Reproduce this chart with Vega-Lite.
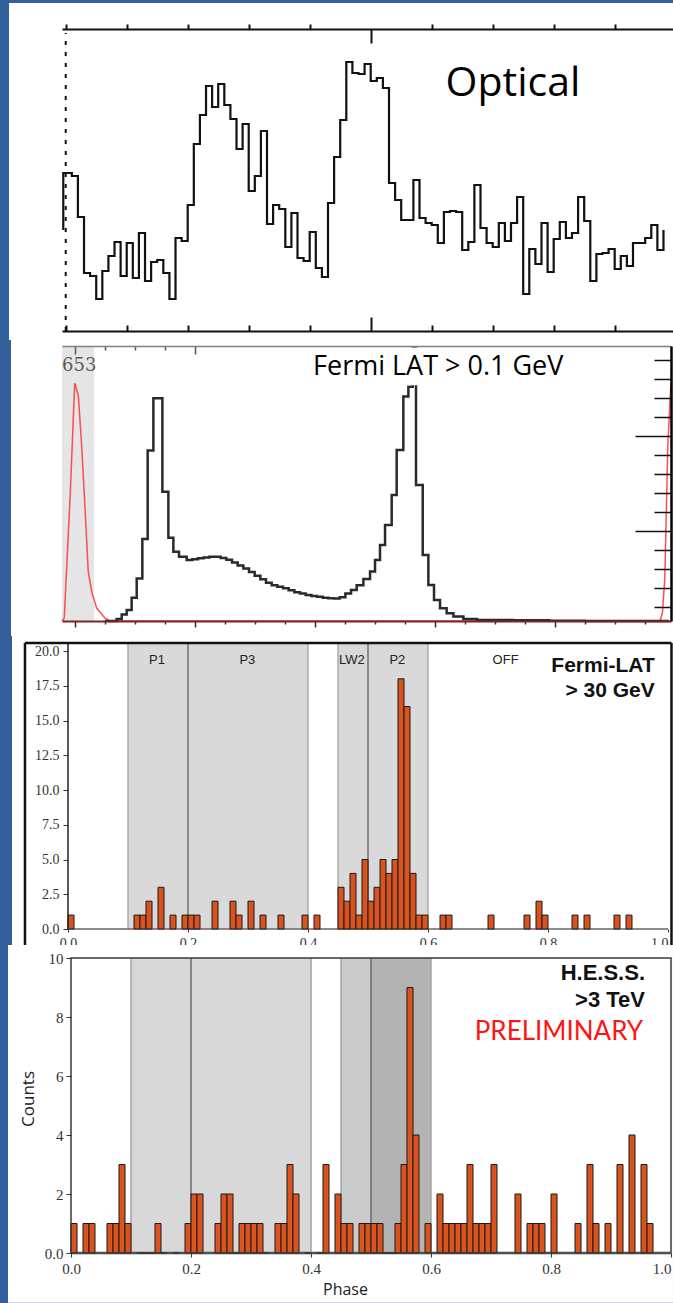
{
  "$schema": "https://vega.github.io/schema/vega-lite/v6.json",
  "background": "#33609c",
  "padding": {"left": 8, "top": 3, "right": 0, "bottom": 0},
  "config": {"view": {"stroke": null}, "axis": {"grid": false}},
  "spacing": 15,
  "bounds": "flush",
  "datasets": {
    "optical": [
      {"i":0,"phase":-0.004,"flux":101},{"i":1,"phase":-0.004,"flux":158},
      {"i":2,"phase":0.00,"flux":158},{"i":3,"phase":0.01,"flux":155},{"i":4,"phase":0.02,"flux":114},{"i":5,"phase":0.03,"flux":58},{"i":6,"phase":0.04,"flux":55},{"i":7,"phase":0.05,"flux":32},{"i":8,"phase":0.06,"flux":60},{"i":9,"phase":0.07,"flux":75},{"i":10,"phase":0.08,"flux":89},{"i":11,"phase":0.09,"flux":55},
      {"i":12,"phase":0.10,"flux":88},{"i":13,"phase":0.11,"flux":53},{"i":14,"phase":0.12,"flux":98},{"i":15,"phase":0.13,"flux":50},{"i":16,"phase":0.14,"flux":69},{"i":17,"phase":0.15,"flux":71},{"i":18,"phase":0.16,"flux":58},{"i":19,"phase":0.17,"flux":32},{"i":20,"phase":0.18,"flux":93},{"i":21,"phase":0.19,"flux":90},
      {"i":22,"phase":0.20,"flux":126},{"i":23,"phase":0.21,"flux":187},{"i":24,"phase":0.22,"flux":216},{"i":25,"phase":0.23,"flux":245},{"i":26,"phase":0.24,"flux":224},{"i":27,"phase":0.25,"flux":247},{"i":28,"phase":0.26,"flux":226},{"i":29,"phase":0.27,"flux":212},{"i":30,"phase":0.28,"flux":182},{"i":31,"phase":0.29,"flux":207},
      {"i":32,"phase":0.30,"flux":140},{"i":33,"phase":0.31,"flux":155},{"i":34,"phase":0.32,"flux":200},{"i":35,"phase":0.33,"flux":107},{"i":36,"phase":0.34,"flux":126},{"i":37,"phase":0.35,"flux":122},{"i":38,"phase":0.36,"flux":84},{"i":39,"phase":0.37,"flux":118},{"i":40,"phase":0.38,"flux":73},{"i":41,"phase":0.39,"flux":70},
      {"i":42,"phase":0.40,"flux":99},{"i":43,"phase":0.41,"flux":63},{"i":44,"phase":0.42,"flux":54},{"i":45,"phase":0.43,"flux":128},{"i":46,"phase":0.44,"flux":174},{"i":47,"phase":0.45,"flux":211},{"i":48,"phase":0.46,"flux":269},{"i":49,"phase":0.47,"flux":258},{"i":50,"phase":0.48,"flux":257},{"i":51,"phase":0.49,"flux":267},
      {"i":52,"phase":0.50,"flux":250},{"i":53,"phase":0.51,"flux":253},{"i":54,"phase":0.52,"flux":243},{"i":55,"phase":0.53,"flux":148},{"i":56,"phase":0.54,"flux":131},{"i":57,"phase":0.55,"flux":111},{"i":58,"phase":0.56,"flux":111},{"i":59,"phase":0.57,"flux":151},{"i":60,"phase":0.58,"flux":113},{"i":61,"phase":0.59,"flux":108},
      {"i":62,"phase":0.60,"flux":106},{"i":63,"phase":0.61,"flux":88},{"i":64,"phase":0.62,"flux":119},{"i":65,"phase":0.63,"flux":120},{"i":66,"phase":0.64,"flux":119},{"i":67,"phase":0.65,"flux":81},{"i":68,"phase":0.66,"flux":89},{"i":69,"phase":0.67,"flux":146},{"i":70,"phase":0.68,"flux":103},{"i":71,"phase":0.69,"flux":88},
      {"i":72,"phase":0.70,"flux":84},{"i":73,"phase":0.71,"flux":108},{"i":74,"phase":0.72,"flux":90},{"i":75,"phase":0.73,"flux":108},{"i":76,"phase":0.74,"flux":134},{"i":77,"phase":0.75,"flux":37},{"i":78,"phase":0.76,"flux":82},{"i":79,"phase":0.77,"flux":67},{"i":80,"phase":0.78,"flux":108},{"i":81,"phase":0.79,"flux":59},
      {"i":82,"phase":0.80,"flux":92},{"i":83,"phase":0.81,"flux":109},{"i":84,"phase":0.82,"flux":93},{"i":85,"phase":0.83,"flux":98},{"i":86,"phase":0.84,"flux":134},{"i":87,"phase":0.85,"flux":110},{"i":88,"phase":0.86,"flux":50},{"i":89,"phase":0.87,"flux":77},{"i":90,"phase":0.88,"flux":78},{"i":91,"phase":0.89,"flux":82},
      {"i":92,"phase":0.90,"flux":62},{"i":93,"phase":0.91,"flux":75},{"i":94,"phase":0.92,"flux":65},{"i":95,"phase":0.93,"flux":88},{"i":96,"phase":0.94,"flux":88},{"i":97,"phase":0.95,"flux":93},{"i":98,"phase":0.96,"flux":106},{"i":99,"phase":0.97,"flux":81},{"i":100,"phase":0.98,"flux":101}
    ],
    "fermi": [
      {"phase":0.05,"rate":0},{"phase":0.0694,"rate":0.7},{"phase":0.0778,"rate":2.4},{"phase":0.0861,"rate":4},{"phase":0.0944,"rate":8.5},{"phase":0.1028,"rate":15.5},{"phase":0.1122,"rate":29.8},{"phase":0.1211,"rate":62},{"phase":0.1306,"rate":81},{"phase":0.1456,"rate":47},{"phase":0.1556,"rate":30.3},{"phase":0.1639,"rate":25.2},{"phase":0.1733,"rate":23.4},{"phase":0.1861,"rate":22.2},{"phase":0.1956,"rate":22.5},{"phase":0.205,"rate":22.8},{"phase":0.2144,"rate":23.1},{"phase":0.2239,"rate":23.4},{"phase":0.2333,"rate":23.4},{"phase":0.2428,"rate":22.9},{"phase":0.2522,"rate":22.3},{"phase":0.2617,"rate":21.3},{"phase":0.2711,"rate":20.2},{"phase":0.2806,"rate":19.1},{"phase":0.29,"rate":17.8},{"phase":0.2994,"rate":16.5},{"phase":0.3089,"rate":15.2},{"phase":0.3183,"rate":13.9},{"phase":0.3278,"rate":13},{"phase":0.3372,"rate":12.5},{"phase":0.3467,"rate":11.9},{"phase":0.3561,"rate":11.2},{"phase":0.3656,"rate":10.5},{"phase":0.375,"rate":10},{"phase":0.3844,"rate":9.5},{"phase":0.3939,"rate":9.1},{"phase":0.4033,"rate":8.8},{"phase":0.4128,"rate":8.5},{"phase":0.4222,"rate":8.3},{"phase":0.4317,"rate":8.2},{"phase":0.4411,"rate":8.6},{"phase":0.4506,"rate":10},{"phase":0.46,"rate":11.3},{"phase":0.4694,"rate":13},{"phase":0.4806,"rate":15.3},{"phase":0.4917,"rate":18},{"phase":0.5,"rate":22.2},{"phase":0.5083,"rate":27.6},{"phase":0.5167,"rate":34.9},{"phase":0.5278,"rate":45.8},{"phase":0.5361,"rate":62.2},{"phase":0.5472,"rate":81.6},{"phase":0.5556,"rate":85.2},{"phase":0.5628,"rate":99},{"phase":0.5683,"rate":49.5},{"phase":0.5795,"rate":24},{"phase":0.5889,"rate":13.1},{"phase":0.5983,"rate":7.6},{"phase":0.6083,"rate":4.6},{"phase":0.6194,"rate":2.8},{"phase":0.6306,"rate":1.6},{"phase":0.6472,"rate":0.7},{"phase":0.67,"rate":0.4},{"phase":0.73,"rate":0.3},{"phase":0.79,"rate":0.1},{"phase":0.85,"rate":0},{"phase":0.99,"rate":0}
    ],
    "radio": [
      {"phase":-0.0217,"level":0},{"phase":-0.018,"level":1},{"phase":-0.008,"level":46},{"phase":-0.0005,"level":86.5},{"phase":0.0055,"level":82},{"phase":0.011,"level":64},{"phase":0.0155,"level":46},{"phase":0.0195,"level":29},{"phase":0.022,"level":18},{"phase":0.028,"level":10.5},{"phase":0.036,"level":4.7},{"phase":0.05,"level":1},{"phase":0.058,"level":0},{"phase":0.975,"level":0},{"phase":0.979,"level":3},{"phase":0.983,"level":15.6},{"phase":0.988,"level":64},{"phase":0.9933,"level":87}
    ],
    "lat30": [
      {"start":0.00,"end":0.01,"count":1},{"start":0.11,"end":0.12,"count":1},{"start":0.12,"end":0.13,"count":1},{"start":0.13,"end":0.14,"count":2},{"start":0.15,"end":0.16,"count":3},{"start":0.17,"end":0.18,"count":1},{"start":0.19,"end":0.20,"count":1},{"start":0.20,"end":0.21,"count":1},{"start":0.21,"end":0.22,"count":1},{"start":0.24,"end":0.25,"count":2},{"start":0.27,"end":0.28,"count":2},{"start":0.28,"end":0.29,"count":1},{"start":0.30,"end":0.31,"count":2},{"start":0.32,"end":0.33,"count":1},{"start":0.35,"end":0.36,"count":1},{"start":0.39,"end":0.40,"count":1},{"start":0.41,"end":0.42,"count":1},{"start":0.45,"end":0.46,"count":3},{"start":0.46,"end":0.47,"count":2},{"start":0.47,"end":0.48,"count":4},{"start":0.48,"end":0.49,"count":1},{"start":0.49,"end":0.50,"count":5},{"start":0.50,"end":0.51,"count":2},{"start":0.51,"end":0.52,"count":3},{"start":0.52,"end":0.53,"count":5},{"start":0.53,"end":0.54,"count":4},{"start":0.54,"end":0.55,"count":5},{"start":0.55,"end":0.56,"count":18},{"start":0.56,"end":0.57,"count":16},{"start":0.57,"end":0.58,"count":4},{"start":0.58,"end":0.59,"count":1},{"start":0.59,"end":0.60,"count":1},{"start":0.62,"end":0.63,"count":1},{"start":0.63,"end":0.64,"count":1},{"start":0.70,"end":0.71,"count":1},{"start":0.76,"end":0.77,"count":1},{"start":0.78,"end":0.79,"count":2},{"start":0.79,"end":0.80,"count":1},{"start":0.84,"end":0.85,"count":1},{"start":0.86,"end":0.87,"count":1},{"start":0.91,"end":0.92,"count":1},{"start":0.93,"end":0.94,"count":1}
    ],
    "hess": [
      {"start":0.00,"end":0.01,"count":1},{"start":0.02,"end":0.03,"count":1},{"start":0.03,"end":0.04,"count":1},{"start":0.06,"end":0.07,"count":1},{"start":0.07,"end":0.08,"count":1},{"start":0.08,"end":0.09,"count":3},{"start":0.09,"end":0.10,"count":1},{"start":0.11,"end":0.12,"count":0},{"start":0.12,"end":0.13,"count":0},{"start":0.13,"end":0.14,"count":0},{"start":0.14,"end":0.15,"count":1},{"start":0.15,"end":0.16,"count":0},{"start":0.17,"end":0.18,"count":0},{"start":0.19,"end":0.20,"count":1},{"start":0.20,"end":0.21,"count":2},{"start":0.21,"end":0.22,"count":2},{"start":0.24,"end":0.25,"count":1},{"start":0.25,"end":0.26,"count":2},{"start":0.26,"end":0.27,"count":2},{"start":0.27,"end":0.28,"count":0},{"start":0.28,"end":0.29,"count":1},{"start":0.29,"end":0.30,"count":1},{"start":0.30,"end":0.31,"count":1},{"start":0.31,"end":0.32,"count":1},{"start":0.32,"end":0.33,"count":0},{"start":0.34,"end":0.35,"count":1},{"start":0.35,"end":0.36,"count":1},{"start":0.36,"end":0.37,"count":3},{"start":0.37,"end":0.38,"count":2},{"start":0.39,"end":0.40,"count":0},{"start":0.41,"end":0.42,"count":0},{"start":0.42,"end":0.43,"count":3},{"start":0.44,"end":0.45,"count":2},{"start":0.45,"end":0.46,"count":1},{"start":0.46,"end":0.47,"count":1},{"start":0.48,"end":0.49,"count":1},{"start":0.49,"end":0.50,"count":1},{"start":0.50,"end":0.51,"count":1},{"start":0.51,"end":0.52,"count":1},{"start":0.52,"end":0.53,"count":0},{"start":0.53,"end":0.54,"count":0},{"start":0.54,"end":0.55,"count":1},{"start":0.55,"end":0.56,"count":3},{"start":0.56,"end":0.57,"count":9},{"start":0.57,"end":0.58,"count":4},{"start":0.59,"end":0.60,"count":1},{"start":0.61,"end":0.62,"count":2},{"start":0.62,"end":0.63,"count":1},{"start":0.63,"end":0.64,"count":1},{"start":0.64,"end":0.65,"count":1},{"start":0.65,"end":0.66,"count":1},{"start":0.66,"end":0.67,"count":3},{"start":0.67,"end":0.68,"count":1},{"start":0.68,"end":0.69,"count":1},{"start":0.69,"end":0.70,"count":1},{"start":0.70,"end":0.71,"count":3},{"start":0.74,"end":0.75,"count":2},{"start":0.76,"end":0.77,"count":1},{"start":0.77,"end":0.78,"count":1},{"start":0.78,"end":0.79,"count":1},{"start":0.80,"end":0.81,"count":2},{"start":0.84,"end":0.85,"count":1},{"start":0.86,"end":0.87,"count":3},{"start":0.87,"end":0.88,"count":1},{"start":0.89,"end":0.90,"count":1},{"start":0.91,"end":0.92,"count":3},{"start":0.93,"end":0.94,"count":4},{"start":0.95,"end":0.96,"count":3},{"start":0.96,"end":0.97,"count":1}
    ],
    "bands": [{"region":"P1","start":0.1,"end":0.2},{"region":"P3","start":0.2,"end":0.4},{"region":"LW2","start":0.45,"end":0.5},{"region":"P2","start":0.5,"end":0.6}],
    "majorEdges": [{"edge":0.2},{"edge":0.5}],
    "minorEdges": [{"edge":0.1},{"edge":0.4},{"edge":0.45},{"edge":0.6}],
    "bandLabels": [{"label":"P1","phase":0.1483},{"label":"P3","phase":0.299},{"label":"LW2","phase":0.473},{"label":"P2","phase":0.549},{"label":"OFF","phase":0.7293}]
  },
  "vconcat": [
    {
      "width": 611, "height": 302,
      "resolve": {"axis": {"x": "independent", "y": "independent"}},
      "layer": [
        {"data": {"values": [{}]}, "mark": {"type": "rect", "fill": "white"},
         "encoding": {
           "x": {"datum": -0.093, "type": "quantitative", "scale": {"domain": [-0.0061, 0.9956], "nice": false, "zero": false}, "axis": null},
           "x2": {"datum": 0.9956},
           "y": {"datum": -9, "type": "quantitative", "scale": {"domain": [0, 302], "nice": false, "zero": false}, "axis": null},
           "y2": {"datum": 328}}},
        {"data": {"name": "optical"}, "mark": {"type": "line", "interpolate": "step-after", "color": "#111111", "strokeWidth": 2.2},
         "encoding": {
           "x": {"field": "phase", "type": "quantitative", "scale": {"domain": [-0.0061, 0.9956], "nice": false, "zero": false},
                 "axis": {"orient": "bottom", "values": [0,0.1,0.2,0.3,0.4,0.5,0.6,0.7,0.8,0.9], "labels": false, "title": null, "grid": false, "domainColor": "#111111", "domainWidth": 2, "tickColor": "#111111", "tickWidth": 2, "tickSize": {"condition": {"test": "datum.value == 0.5", "value": -14}, "value": -6}, "zindex": 1}},
           "y": {"field": "flux", "type": "quantitative", "scale": {"domain": [0, 302], "nice": false, "zero": false}, "axis": null},
           "order": {"field": "i", "type": "quantitative"}}},
        {"data": {"values": [{}]}, "mark": {"type": "rule", "strokeDash": [4, 7], "strokeWidth": 2, "color": "#111111"},
         "encoding": {
           "x": {"datum": 0, "type": "quantitative", "scale": {"domain": [-0.0061, 0.9956], "nice": false, "zero": false},
                 "axis": {"orient": "top", "values": [0,0.1,0.2,0.3,0.4,0.5,0.6,0.7,0.8,0.9], "labels": false, "title": null, "grid": false, "domainColor": "#111111", "domainWidth": 2, "tickColor": "#111111", "tickWidth": 2, "tickSize": {"condition": {"test": "datum.value == 0.5", "value": -14}, "value": 5}, "zindex": 1}},
           "y": {"datum": 0, "type": "quantitative", "scale": {"domain": [0, 302], "nice": false, "zero": false}, "axis": null},
           "y2": {"datum": 298}}},
        {"data": {"values": [{}]}, "mark": {"type": "text", "text": "Optical", "font": "Open Sans", "fontSize": 41, "align": "left", "baseline": "alphabetic", "color": "#000000"},
         "encoding": {
           "x": {"datum": 0.6228, "type": "quantitative", "scale": {"domain": [-0.0061, 0.9956], "nice": false, "zero": false}, "axis": null},
           "y": {"datum": 235, "type": "quantitative", "scale": {"domain": [0, 302], "nice": false, "zero": false}, "axis": null}}}
      ]
    },
    {
      "width": 609, "height": 275,
      "resolve": {"axis": {"x": "independent", "y": "independent"}},
      "layer": [
        {"data": {"values": [{}]}, "mark": {"type": "rect", "fill": "white"},
         "encoding": {
           "x": {"datum": -0.1067, "type": "quantitative", "scale": {"domain": [-0.0217, 0.9933], "nice": false, "zero": false}, "axis": null},
           "x2": {"datum": 0.9967},
           "y": {"datum": -5.45, "type": "quantitative", "scale": {"domain": [0, 100], "nice": false, "zero": false}, "axis": null},
           "y2": {"datum": 102.2}}},
        {"data": {"values": [{}]}, "mark": {"type": "rect", "fill": "#e5e5e5"},
         "encoding": {
           "x": {"datum": -0.0217, "type": "quantitative", "scale": {"domain": [-0.0217, 0.9933], "nice": false, "zero": false},
                 "axis": {"orient": "top", "values": [0,0.05,0.1,0.15,0.2], "labels": false, "title": null, "grid": false, "domainColor": "#808080", "domainWidth": 1.5, "tickColor": "#555555", "tickWidth": 1.5, "tickSize": {"condition": {"test": "datum.value == 0 || datum.value == 0.2", "value": -8}, "value": -4}, "zindex": 1}},
           "x2": {"datum": 0.0317},
           "y": {"datum": 0, "type": "quantitative", "scale": {"domain": [0, 100], "nice": false, "zero": false}, "axis": null},
           "y2": {"datum": 100}}},
        {"data": {"values": [{}]}, "mark": {"type": "text", "text": "653", "font": "DejaVu Serif", "fontSize": 18, "align": "left", "baseline": "middle", "color": "#5a5a5a"},
         "encoding": {
           "x": {"datum": -0.0217, "type": "quantitative", "scale": {"domain": [-0.0217, 0.9933], "nice": false, "zero": false}, "axis": null},
           "y": {"datum": 92.7, "type": "quantitative", "scale": {"domain": [0, 100], "nice": false, "zero": false}, "axis": null}}},
        {"data": {"name": "radio"}, "mark": {"type": "line", "color": "#ff3b3b", "strokeWidth": 1.5, "opacity": 0.9},
         "encoding": {
           "x": {"field": "phase", "type": "quantitative", "scale": {"domain": [-0.0217, 0.9933], "nice": false, "zero": false}, "axis": null},
           "y": {"field": "level", "type": "quantitative", "scale": {"domain": [0, 100], "nice": false, "zero": false}, "axis": null}}},
        {"data": {"name": "fermi"}, "mark": {"type": "line", "interpolate": "step-after", "color": "#2a2a2a", "strokeWidth": 2.5},
         "encoding": {
           "x": {"field": "phase", "type": "quantitative", "scale": {"domain": [-0.0217, 0.9933], "nice": false, "zero": false},
                 "axis": {"orient": "bottom", "values": [0,0.05,0.1,0.15,0.2,0.25,0.3,0.35,0.4,0.45,0.5,0.55,0.6,0.65,0.7,0.75,0.8,0.85,0.9,0.95], "labels": false, "title": null, "grid": false, "domainColor": "#7b2424", "domainWidth": 2, "tickColor": "#333333", "tickWidth": 1.5, "tickSize": {"condition": {"test": "indexof([0,0.2,0.4,0.6,0.8], datum.value) >= 0", "value": 6}, "value": 3}, "zindex": 1}},
           "y": {"field": "rate", "type": "quantitative", "scale": {"domain": [0, 100], "nice": false, "zero": false},
                 "axis": {"orient": "right", "values": [5.1,12,18.9,25.8,32.7,39.6,46.5,53.4,60.3,67.2,74.1,81,87.9,94.8], "labels": false, "title": null, "grid": false, "domainColor": "#000000", "domainWidth": 2.5, "tickColor": "#111111", "tickWidth": 1.5, "tickSize": {"condition": {"test": "datum.value == 32.7 || datum.value == 67.2", "value": -36}, "value": -17}, "zindex": 1}}}},
        {"data": {"values": [{}]}, "mark": {"type": "rect", "fill": "white"},
         "encoding": {
           "x": {"datum": 0.2, "type": "quantitative", "scale": {"domain": [-0.0217, 0.9933], "nice": false, "zero": false}, "axis": null},
           "x2": {"datum": 0.95},
           "y": {"datum": 85.7, "type": "quantitative", "scale": {"domain": [0, 100], "nice": false, "zero": false}, "axis": null},
           "y2": {"datum": 99.3}}},
        {"data": {"values": [{}]}, "mark": {"type": "text", "text": "Fermi LAT > 0.1 GeV", "font": "Open Sans", "fontSize": 27, "align": "left", "baseline": "alphabetic", "color": "#000000"},
         "encoding": {
           "x": {"datum": 0.3967, "type": "quantitative", "scale": {"domain": [-0.0217, 0.9933], "nice": false, "zero": false}, "axis": null},
           "y": {"datum": 89.45, "type": "quantitative", "scale": {"domain": [0, 100], "nice": false, "zero": false}, "axis": null}}}
      ]
    },
    {
      "width": 606, "height": 293,
      "resolve": {"axis": {"x": "independent", "y": "independent"}},
      "layer": [
        {"data": {"values": [{}]}, "mark": {"type": "rect", "fill": "white"},
         "encoding": {
           "x": {"datum": -0.0933, "type": "quantitative", "scale": {"domain": [-0.01, 1.0], "nice": false, "zero": false}, "axis": null},
           "x2": {"datum": 1.0083},
           "y": {"datum": -1.151, "type": "quantitative", "scale": {"domain": [0, 21.08], "nice": false, "zero": false}, "axis": null},
           "y2": {"datum": 21.08}}},
        {"data": {"name": "bands"}, "mark": {"type": "rect", "fill": "#d9d9d9"},
         "encoding": {
           "x": {"field": "start", "type": "quantitative", "scale": {"domain": [-0.01, 1.0], "nice": false, "zero": false}, "axis": null},
           "x2": {"field": "end"},
           "y": {"datum": 0, "type": "quantitative", "scale": {"domain": [0, 21.08], "nice": false, "zero": false}, "axis": null},
           "y2": {"datum": 20.5}}},
        {"data": {"name": "minorEdges"}, "mark": {"type": "rule", "color": "#ababab", "strokeWidth": 1.5},
         "encoding": {
           "x": {"field": "edge", "type": "quantitative", "scale": {"domain": [-0.01, 1.0], "nice": false, "zero": false}, "axis": null},
           "y": {"datum": 0, "type": "quantitative", "scale": {"domain": [0, 21.08], "nice": false, "zero": false}, "axis": null},
           "y2": {"datum": 20.5}}},
        {"data": {"name": "majorEdges"}, "mark": {"type": "rule", "color": "#707070", "strokeWidth": 1.5},
         "encoding": {
           "x": {"field": "edge", "type": "quantitative", "scale": {"domain": [-0.01, 1.0], "nice": false, "zero": false}, "axis": null},
           "y": {"datum": 0, "type": "quantitative", "scale": {"domain": [0, 21.08], "nice": false, "zero": false}, "axis": null},
           "y2": {"datum": 20.5}}},
        {"data": {"values": [{}]}, "mark": {"type": "rule", "color": "#666666", "strokeWidth": 1.5},
         "encoding": {
           "x": {"datum": 0, "type": "quantitative", "scale": {"domain": [-0.01, 1.0], "nice": false, "zero": false}, "axis": null},
           "x2": {"datum": 1.0},
           "y": {"datum": 0, "type": "quantitative", "scale": {"domain": [0, 21.08], "nice": false, "zero": false}, "axis": null}}},
        {"data": {"name": "lat30"}, "mark": {"type": "bar", "fill": "#d9531e", "stroke": "#1a1a1a", "strokeWidth": 1},
         "encoding": {
           "x": {"field": "start", "type": "quantitative", "scale": {"domain": [-0.01, 1.0], "nice": false, "zero": false},
                 "axis": {"orient": "bottom", "values": [0,0.2,0.4,0.6,0.8,1.0], "format": ".1f", "labelFlush": true, "domain": false, "tickSize": 3, "tickColor": "#333333", "labelPadding": 4, "labelFont": "Liberation Serif", "labelFontSize": 14, "labelColor": "#333333", "title": null, "grid": false, "zindex": 1}},
           "x2": {"field": "end"},
           "y": {"field": "count", "type": "quantitative", "scale": {"domain": [0, 21.08], "nice": false, "zero": false},
                 "axis": {"orient": "left", "offset": -6, "values": [0,2.5,5,7.5,10,12.5,15,17.5,20], "format": ".1f", "domain": false, "tickSize": 5, "tickColor": "#333333", "labelPadding": 4, "labelFont": "Liberation Serif", "labelFontSize": 14, "labelColor": "#333333", "title": null, "grid": false, "zindex": 1}},
           "y2": {"datum": 0}}},
        {"data": {"values": [{}]}, "mark": {"type": "rule", "color": "#222222", "strokeWidth": 1.5},
         "encoding": {
           "x": {"datum": 0, "type": "quantitative", "scale": {"domain": [-0.01, 1.0], "nice": false, "zero": false}, "axis": null},
           "y": {"datum": 0, "type": "quantitative", "scale": {"domain": [0, 21.08], "nice": false, "zero": false}, "axis": null},
           "y2": {"datum": 20.58}}},
        {"data": {"values": [{}]}, "mark": {"type": "rule", "color": "#111111", "strokeWidth": 2.5},
         "encoding": {
           "x": {"datum": -0.0717, "type": "quantitative", "scale": {"domain": [-0.01, 1.0], "nice": false, "zero": false}, "axis": null},
           "y": {"datum": -1.151, "type": "quantitative", "scale": {"domain": [0, 21.08], "nice": false, "zero": false}, "axis": null},
           "y2": {"datum": 20.58}}},
        {"data": {"values": [{}]}, "mark": {"type": "rule", "color": "#111111", "strokeWidth": 2.5},
         "encoding": {
           "x": {"datum": 1.0058, "type": "quantitative", "scale": {"domain": [-0.01, 1.0], "nice": false, "zero": false}, "axis": null},
           "y": {"datum": -1.151, "type": "quantitative", "scale": {"domain": [0, 21.08], "nice": false, "zero": false}, "axis": null},
           "y2": {"datum": 20.58}}},
        {"data": {"values": [{}]}, "mark": {"type": "rule", "color": "#111111", "strokeWidth": 2.5},
         "encoding": {
           "x": {"datum": -0.0717, "type": "quantitative", "scale": {"domain": [-0.01, 1.0], "nice": false, "zero": false}, "axis": null},
           "x2": {"datum": 1.0058},
           "y": {"datum": 20.58, "type": "quantitative", "scale": {"domain": [0, 21.08], "nice": false, "zero": false}, "axis": null}}},
        {"data": {"name": "bandLabels"}, "mark": {"type": "text", "font": "Liberation Sans", "fontSize": 13, "align": "center", "baseline": "alphabetic", "color": "#222222"},
         "encoding": {
           "x": {"field": "phase", "type": "quantitative", "scale": {"domain": [-0.01, 1.0], "nice": false, "zero": false}, "axis": null},
           "y": {"datum": 19.06, "type": "quantitative", "scale": {"domain": [0, 21.08], "nice": false, "zero": false}, "axis": null},
           "text": {"field": "label"}}},
        {"data": {"values": [{}]}, "mark": {"type": "text", "text": "Fermi-LAT", "font": "Liberation Sans", "fontWeight": "bold", "fontSize": 21, "align": "right", "baseline": "alphabetic", "color": "#111111"},
         "encoding": {
           "x": {"datum": 0.978, "type": "quantitative", "scale": {"domain": [-0.01, 1.0], "nice": false, "zero": false}, "axis": null},
           "y": {"datum": 18.49, "type": "quantitative", "scale": {"domain": [0, 21.08], "nice": false, "zero": false}, "axis": null}}},
        {"data": {"values": [{}]}, "mark": {"type": "text", "text": "> 30 GeV", "font": "Liberation Sans", "fontWeight": "bold", "fontSize": 21, "align": "right", "baseline": "alphabetic", "color": "#111111"},
         "encoding": {
           "x": {"datum": 0.978, "type": "quantitative", "scale": {"domain": [-0.01, 1.0], "nice": false, "zero": false}, "axis": null},
           "y": {"datum": 16.69, "type": "quantitative", "scale": {"domain": [0, 21.08], "nice": false, "zero": false}, "axis": null}}}
      ]
    },
    {
      "width": 609, "height": 309,
      "resolve": {"axis": {"x": "independent", "y": "independent"}},
      "layer": [
        {"data": {"values": [{}]}, "mark": {"type": "rect", "fill": "white"},
         "encoding": {
           "x": {"datum": -0.105, "type": "quantitative", "scale": {"domain": [-0.015, 1.0], "nice": false, "zero": false}, "axis": null},
           "x2": {"datum": 1.0033},
           "y": {"datum": -1.69, "type": "quantitative", "scale": {"domain": [0, 10.475], "nice": false, "zero": false}, "axis": null},
           "y2": {"datum": 10.44}}},
        {"data": {"name": "bands"}, "mark": {"type": "rect"},
         "encoding": {
           "x": {"field": "start", "type": "quantitative", "scale": {"domain": [-0.015, 1.0], "nice": false, "zero": false}, "axis": null},
           "x2": {"field": "end"},
           "y": {"datum": 0, "type": "quantitative", "scale": {"domain": [0, 10.475], "nice": false, "zero": false}, "axis": null},
           "y2": {"datum": 10},
           "color": {"field": "region", "type": "nominal", "scale": {"domain": ["P1","P3","LW2","P2"], "range": ["#d8d8d8","#d8d8d8","#cbcbcb","#b3b3b3"]}, "legend": null}}},
        {"data": {"name": "minorEdges"}, "mark": {"type": "rule", "color": "#a3a3a3", "strokeWidth": 1.5},
         "encoding": {
           "x": {"field": "edge", "type": "quantitative", "scale": {"domain": [-0.015, 1.0], "nice": false, "zero": false}, "axis": null},
           "y": {"datum": 0, "type": "quantitative", "scale": {"domain": [0, 10.475], "nice": false, "zero": false}, "axis": null},
           "y2": {"datum": 10}}},
        {"data": {"name": "majorEdges"}, "mark": {"type": "rule", "color": "#6a6a6a", "strokeWidth": 1.5},
         "encoding": {
           "x": {"field": "edge", "type": "quantitative", "scale": {"domain": [-0.015, 1.0], "nice": false, "zero": false}, "axis": null},
           "y": {"datum": 0, "type": "quantitative", "scale": {"domain": [0, 10.475], "nice": false, "zero": false}, "axis": null},
           "y2": {"datum": 10}}},
        {"data": {"values": [{}]}, "mark": {"type": "rule", "color": "#9a9a9a", "strokeWidth": 3},
         "encoding": {
           "x": {"datum": 0, "type": "quantitative", "scale": {"domain": [-0.015, 1.0], "nice": false, "zero": false}, "axis": null},
           "x2": {"datum": 1.0},
           "y": {"datum": 0, "type": "quantitative", "scale": {"domain": [0, 10.475], "nice": false, "zero": false}, "axis": null}}},
        {"data": {"name": "hess"}, "mark": {"type": "bar", "fill": "#d9531e", "stroke": "#1a1a1a", "strokeWidth": 1},
         "encoding": {
           "x": {"field": "start", "type": "quantitative", "scale": {"domain": [-0.015, 1.0], "nice": false, "zero": false},
                 "axis": {"orient": "bottom", "values": [0,0.2,0.4,0.6,0.8,1.0], "format": ".1f", "labelFlush": true, "domain": false, "tickSize": 4, "tickColor": "#333333", "labelPadding": 4, "labelFont": "Liberation Serif", "labelFontSize": 15, "labelColor": "#333333", "title": "Phase", "titleFont": "Open Sans", "titleFontSize": 16, "titleFontWeight": "normal", "titleColor": "#222222", "titlePadding": 5, "titleX": 283, "grid": false, "zindex": 1}},
           "x2": {"field": "end"},
           "y": {"field": "count", "type": "quantitative", "scale": {"domain": [0, 10.475], "nice": false, "zero": false},
                 "axis": {"orient": "left", "offset": -9, "values": [0,2,4,6,8,10], "labelExpr": "datum.value == 0 ? '0.0' : datum.label", "domain": false, "tickSize": 5, "tickColor": "#333333", "labelPadding": 3, "labelFont": "Liberation Serif", "labelFontSize": 15, "labelColor": "#333333", "title": "Counts", "titleFont": "Open Sans", "titleFontSize": 17, "titleFontWeight": "normal", "titleColor": "#222222", "titlePadding": 7, "grid": false, "zindex": 1}},
           "y2": {"datum": 0}}},
        {"data": {"values": [{}]}, "mark": {"type": "rect", "fill": "transparent", "stroke": "#3a3a3a", "strokeWidth": 1.5},
         "encoding": {
           "x": {"datum": 0, "type": "quantitative", "scale": {"domain": [-0.015, 1.0], "nice": false, "zero": false}, "axis": null},
           "x2": {"datum": 1.0},
           "y": {"datum": 0, "type": "quantitative", "scale": {"domain": [0, 10.475], "nice": false, "zero": false}, "axis": null},
           "y2": {"datum": 10}}},
        {"data": {"values": [{}]}, "mark": {"type": "text", "text": "H.E.S.S.", "font": "Liberation Sans", "fontWeight": "bold", "fontSize": 22, "align": "right", "baseline": "alphabetic", "color": "#111111"},
         "encoding": {
           "x": {"datum": 0.9567, "type": "quantitative", "scale": {"domain": [-0.015, 1.0], "nice": false, "zero": false}, "axis": null},
           "y": {"datum": 9.254, "type": "quantitative", "scale": {"domain": [0, 10.475], "nice": false, "zero": false}, "axis": null}}},
        {"data": {"values": [{}]}, "mark": {"type": "text", "text": ">3 TeV", "font": "Liberation Sans", "fontWeight": "bold", "fontSize": 22, "align": "right", "baseline": "alphabetic", "color": "#111111"},
         "encoding": {
           "x": {"datum": 0.9567, "type": "quantitative", "scale": {"domain": [-0.015, 1.0], "nice": false, "zero": false}, "axis": null},
           "y": {"datum": 8.339, "type": "quantitative", "scale": {"domain": [0, 10.475], "nice": false, "zero": false}, "axis": null}}},
        {"data": {"values": [{}]}, "mark": {"type": "text", "text": "PRELIMINARY", "font": "Lato", "fontSize": 26, "align": "right", "baseline": "alphabetic", "color": "#ff1414"},
         "encoding": {
           "x": {"datum": 0.9533, "type": "quantitative", "scale": {"domain": [-0.015, 1.0], "nice": false, "zero": false}, "axis": null},
           "y": {"datum": 7.22, "type": "quantitative", "scale": {"domain": [0, 10.475], "nice": false, "zero": false}, "axis": null}}}
      ]
    }
  ]
}
